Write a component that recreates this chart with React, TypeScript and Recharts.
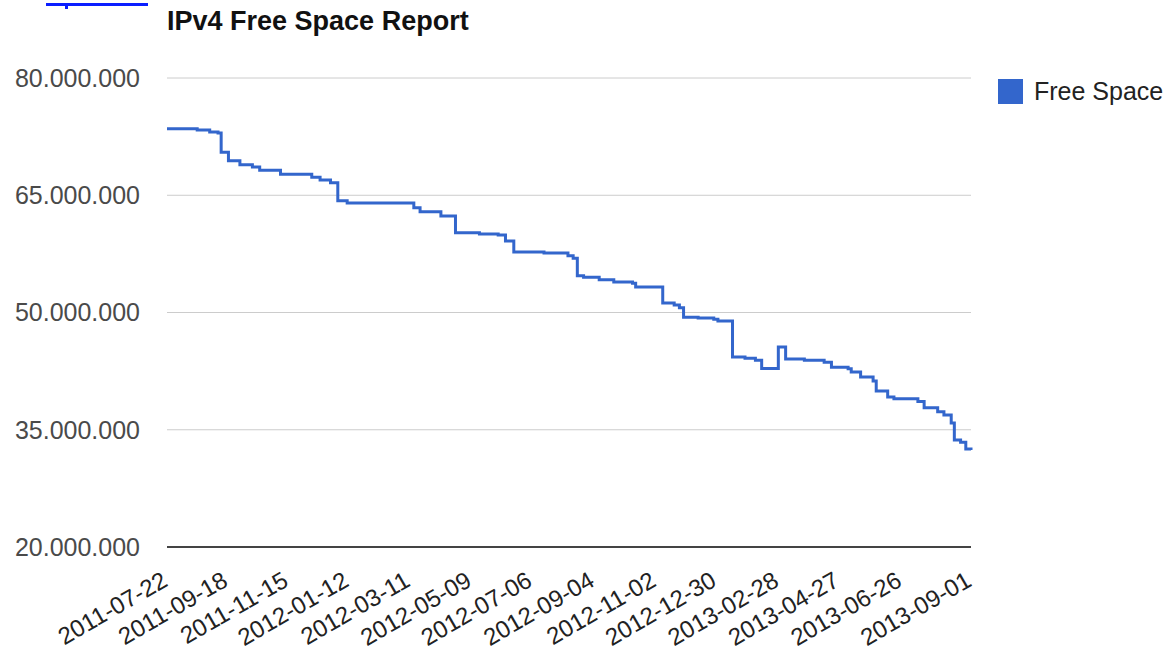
import React from "react";
import {
  LineChart,
  Line,
  XAxis,
  YAxis,
  CartesianGrid,
  Legend,
} from "recharts";

const FONT = '"Liberation Sans", Arial, sans-serif';
const START = "2011-07-22";

// days since START where the free space changed, and the value (millions) from that day on
const days = [
  0, 29, 41, 49, 52, 59, 70, 82, 89, 109, 139, 147, 157, 164, 173, 237, 243,
  263, 277, 300, 318, 325, 333, 362, 385, 390, 394, 400, 415, 429, 447, 450,
  476, 487, 492, 496, 510, 525, 529, 543, 555, 565, 571, 587, 594, 612, 631,
  638, 654, 657, 666, 678, 681, 692, 698, 721, 727, 740, 746, 753, 756, 762,
  767, 772,
];
const freeSpace = [
  73.5, 73.35, 73.1, 72.95, 70.5, 69.4, 68.9, 68.6, 68.2, 67.7, 67.3, 66.95,
  66.6, 64.3, 64.0, 63.4, 62.9, 62.35, 60.2, 60.05, 59.9, 59.15, 57.75, 57.6,
  57.25, 56.95, 54.7, 54.5, 54.2, 53.9, 53.75, 53.25, 51.2, 50.95, 50.6, 49.4,
  49.3, 49.15, 48.9, 44.3, 44.15, 43.9, 42.85, 45.6, 44.05, 43.9, 43.65, 43.0,
  42.8, 42.4, 41.75, 41.25, 39.95, 39.2, 38.95, 38.6, 37.8, 37.3, 36.9, 35.85,
  33.7, 33.4, 32.55, 32.4,
];

const xTickLabels = [
  "2011-07-22",
  "2011-09-18",
  "2011-11-15",
  "2012-01-12",
  "2012-03-11",
  "2012-05-09",
  "2012-07-06",
  "2012-09-04",
  "2012-11-02",
  "2012-12-30",
  "2013-02-28",
  "2013-04-27",
  "2013-06-26",
  "2013-09-01",
];
const yTicks = [20, 35, 50, 65, 80];

const dayOf = (s: string) =>
  Math.round((Date.parse(s) - Date.parse(START)) / 86400000);
const xTicks = xTickLabels.map(dayOf);
const labelByDay: Record<number, string> = {};
xTickLabels.forEach((l, i) => (labelByDay[xTicks[i]] = l));

const data = days.map((d, i) => ({ day: d, free: freeSpace[i] }));

const XTick = (props: any) => {
  const { x, y, payload } = props;
  const ax = x + 2;
  const ay = y + 30;
  return (
    <text
      x={ax}
      y={ay}
      textAnchor="end"
      transform={`rotate(-30 ${ax} ${ay})`}
      fontSize={24}
      fontFamily={FONT}
      fill="#222"
    >
      {labelByDay[payload.value]}
    </text>
  );
};

const renderLegend = (props: any) => (
  <div>
    {(props.payload || []).map((p: any) => (
      <div key={p.value} style={{ display: "flex", alignItems: "center" }}>
        <div style={{ width: 25, height: 25, background: p.color }} />
        <span
          style={{
            marginLeft: 11,
            fontSize: 25,
            fontFamily: FONT,
            color: "#222",
          }}
        >
          {p.value}
        </span>
      </div>
    ))}
  </div>
);

export default function App() {
  return (
    <div
      style={{
        position: "absolute",
        left: 0,
        top: 0,
        width: 1169,
        height: 655,
        background: "#fff",
      }}
    >
      <div
        style={{
          position: "absolute",
          left: 46,
          top: 3,
          width: 102,
          height: 3,
          background: "#0a1eff",
        }}
      />
      <div
        style={{
          position: "absolute",
          left: 65,
          top: 3,
          width: 3,
          height: 6,
          background: "#0a1eff",
        }}
      />
      <div
        style={{
          position: "absolute",
          left: 167,
          top: 8,
          fontFamily: FONT,
          fontWeight: "bold",
          fontSize: 27,
          lineHeight: "27px",
          color: "#111",
          whiteSpace: "nowrap",
        }}
      >
        IPv4 Free Space Report
      </div>
      <LineChart
        width={1169}
        height={655}
        data={data}
        margin={{ top: 78, right: 198, bottom: 8, left: 0 }}
      >
        <CartesianGrid vertical={false} stroke="#cccccc" />
        <XAxis
          dataKey="day"
          type="number"
          domain={[0, 772]}
          ticks={xTicks}
          interval={0}
          height={100}
          tickLine={false}
          axisLine={{ stroke: "#444", strokeWidth: 2 }}
          tick={<XTick />}
        />
        <YAxis
          domain={[20, 80]}
          ticks={yTicks}
          width={167}
          tickLine={false}
          axisLine={false}
          tickMargin={21}
          tick={{ fontSize: 25, fill: "#4a4a4a", fontFamily: FONT }}
          tickFormatter={(v: number) => `${v}.000.000`}
        />
        <Legend
          layout="horizontal"
          verticalAlign="middle"
          content={renderLegend}
          wrapperStyle={{ left: 998, top: 77, width: 171 }}
        />
        <Line
          type="stepAfter"
          dataKey="free"
          name="Free Space"
          stroke="#3366cc"
          strokeWidth={3}
          dot={false}
          isAnimationActive={false}
        />
      </LineChart>
    </div>
  );
}
